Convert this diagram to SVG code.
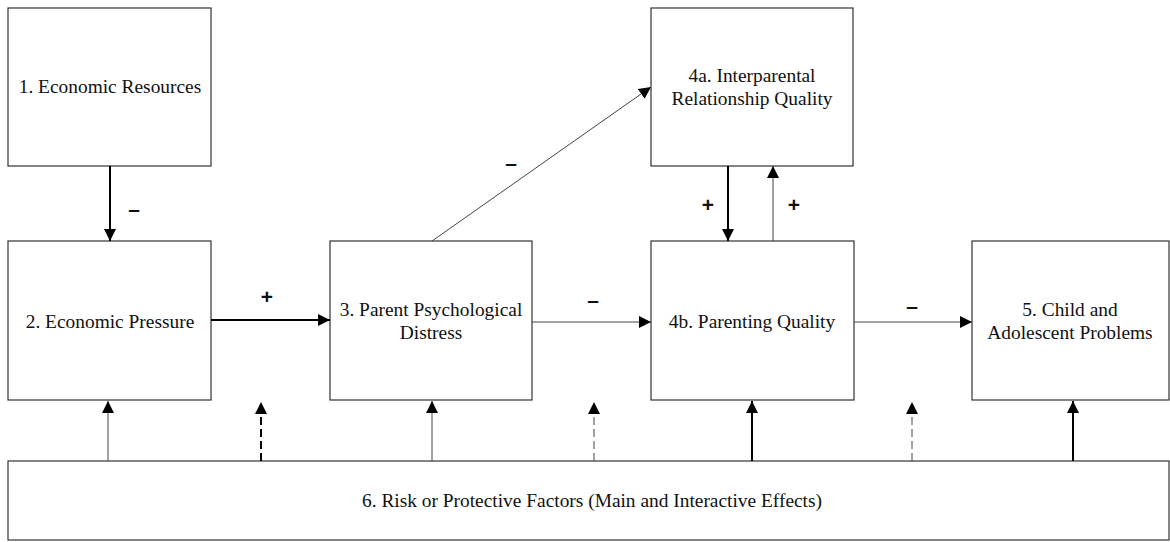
<svg xmlns="http://www.w3.org/2000/svg" width="1170" height="542" viewBox="0 0 1170 542">
<style>
  .box{fill:#fff;stroke:#333;stroke-width:1.2}
  .t{font-family:'Liberation Serif','Times New Roman',Times,'DejaVu Serif',serif;font-size:19.4px;fill:#111;text-anchor:middle}
  .lbl{font-family:'Liberation Sans',Arial,sans-serif;font-size:21px;font-weight:bold;fill:#111;text-anchor:middle}
  .thin{stroke:#444;stroke-width:1;fill:none}
  .thick{stroke:#000;stroke-width:2;fill:none}
  .dash{stroke-dasharray:8 4}
</style>
<defs>
  <marker id="ah" markerUnits="userSpaceOnUse" markerWidth="13" markerHeight="13" refX="12" refY="6" orient="auto">
    <path d="M0,0 L12,6 L0,12 Z" fill="#000"/>
  </marker>
</defs>
<rect width="1170" height="542" fill="#fff"/>
<g id="n1"><rect class="box" x="8" y="8" width="203" height="158"/><text class="t" x="110" y="93">1. Economic Resources</text></g>
<g id="n2"><rect class="box" x="8" y="241" width="203" height="159"/><text class="t" x="110" y="328">2. Economic Pressure</text></g>
<g id="n3"><rect class="box" x="330" y="241" width="202" height="159"/><text class="t" x="431" y="316">3. Parent Psychological</text><text class="t" x="431" y="339">Distress</text></g>
<g id="n4a"><rect class="box" x="651" y="8" width="202" height="158"/><text class="t" x="752" y="82">4a. Interparental</text><text class="t" x="752" y="105">Relationship Quality</text></g>
<g id="n4b"><rect class="box" x="651" y="241" width="203" height="159"/><text class="t" x="752" y="328">4b. Parenting Quality</text></g>
<g id="n5"><rect class="box" x="972" y="241" width="197" height="159"/><text class="t" x="1070" y="316">5. Child and</text><text class="t" x="1070" y="339">Adolescent Problems</text></g>
<g id="n6"><rect class="box" x="8" y="461" width="1161" height="79"/><text class="t" x="592" y="507">6. Risk or Protective Factors (Main and Interactive Effects)</text></g>
<g id="connectors">
  <line class="thick" x1="110" y1="166" x2="110" y2="241" marker-end="url(#ah)"/>
  <line class="thick" x1="211" y1="320" x2="330" y2="320" marker-end="url(#ah)"/>
  <line class="thin" x1="532" y1="322" x2="651" y2="322" marker-end="url(#ah)"/>
  <line class="thin" x1="854" y1="322" x2="972" y2="322" marker-end="url(#ah)"/>
  <line class="thin" x1="432" y1="241" x2="651" y2="87" marker-end="url(#ah)"/>
  <line class="thick" x1="728" y1="166" x2="728" y2="241" marker-end="url(#ah)"/>
  <line class="thin" x1="773" y1="241" x2="773" y2="166" marker-end="url(#ah)"/>
  <line class="thin" x1="108" y1="461" x2="108" y2="401" marker-end="url(#ah)"/>
  <line class="thick dash" x1="261" y1="461" x2="261" y2="402" marker-end="url(#ah)"/>
  <line class="thin" x1="432" y1="461" x2="432" y2="401" marker-end="url(#ah)"/>
  <line class="thin dash" x1="594" y1="461" x2="594" y2="402" marker-end="url(#ah)"/>
  <line class="thick" x1="752" y1="461" x2="752" y2="401" marker-end="url(#ah)"/>
  <line class="thin dash" x1="912" y1="461" x2="912" y2="402" marker-end="url(#ah)"/>
  <line class="thick" x1="1073" y1="461" x2="1073" y2="401" marker-end="url(#ah)"/>
  <text class="lbl" x="134" y="216">–</text>
  <text class="lbl" x="267" y="304">+</text>
  <text class="lbl" x="593" y="307">–</text>
  <text class="lbl" x="912" y="313">–</text>
  <text class="lbl" x="511" y="170">–</text>
  <text class="lbl" x="708" y="212">+</text>
  <text class="lbl" x="794" y="212">+</text>
</g>
</svg>
